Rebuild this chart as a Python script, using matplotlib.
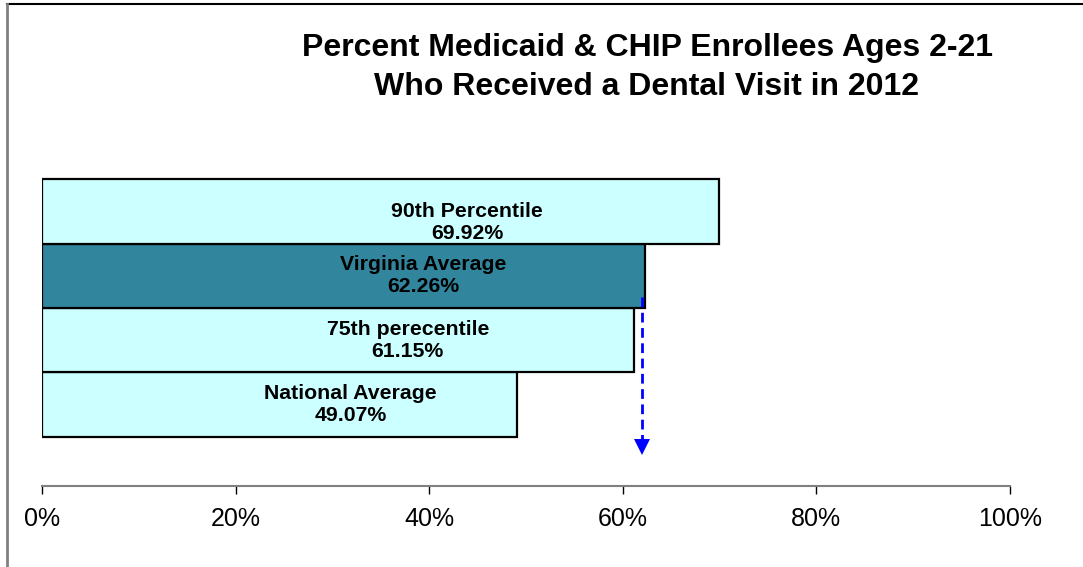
import matplotlib
matplotlib.use("Agg")
import matplotlib.pyplot as plt
from matplotlib.lines import Line2D

plt.rcParams['font.family'] = ['Liberation Sans', 'DejaVu Sans']

# ---- data ----
categories = ["National Average", "75th perecentile", "Virginia Average", "90th Percentile"]
values = [49.07, 61.15, 62.26, 69.92]
bar_colors = ["#CCFFFF", "#CCFFFF", "#31859C", "#CCFFFF"]
xticks = [0, 20, 40, 60, 80, 100]
xtick_labels = ["0%", "20%", "40%", "60%", "80%", "100%"]
title_lines = ["Percent Medicaid & CHIP Enrollees Ages 2-21",
               "Who Received a Dental Visit in 2012"]
arrow_x = 62.0
arrow_y_start = 1.67
arrow_y_end = -0.66
# label placement (fraction of bar length, vertical offset)
label_x_frac = [0.65, 0.618, 0.632, 0.628]
label_dy = [0.0, 0.0, 0.0, -0.17]

fig = plt.figure(figsize=(10.83, 5.67), dpi=100)
ax = fig.add_axes([42/1083, 1-486/567, (1010-42)/1083, (486-130)/567])

ypos = list(range(len(categories)))
ax.barh(ypos, values, height=1.0, color=bar_colors, edgecolor='black', linewidth=1.6, zorder=2)

for y, v, c, fx, dy in zip(ypos, values, categories, label_x_frac, label_dy):
    ax.text(v*fx, y+dy, f"{c}\n{v:.2f}%", ha='center', va='center',
            fontsize=15.3, fontweight='bold', linespacing=1.22, zorder=3)

ax.plot([arrow_x, arrow_x], [arrow_y_start, arrow_y_end+0.1], color='blue', lw=2,
        linestyle=(0, (3.5, 2)), zorder=4)
ax.plot([arrow_x], [arrow_y_end], marker='v', color='blue', markersize=12, zorder=4,
        markeredgewidth=0)

ax.set_xlim(0, 100)
ax.set_ylim(-1.26, 4.26)
ax.set_xticks(xticks)
ax.set_xticklabels(xtick_labels, fontsize=18)
ax.set_yticks([])
for s in ['left', 'top', 'right']:
    ax.spines[s].set_visible(False)
ax.spines['bottom'].set_color('#808080')
ax.spines['bottom'].set_linewidth(1.5)
ax.tick_params(axis='x', direction='out', length=6, width=1, color='black', pad=9)

fig.text(648/1083, 1-48/567, title_lines[0], ha='center', va='center', fontsize=23, fontweight='bold')
fig.text(646/1083, 1-87/567, title_lines[1], ha='center', va='center', fontsize=23, fontweight='bold')

# frame lines
fig.add_artist(Line2D([7/1083, 1], [1-4/567, 1-4/567], color='black', lw=1.5, transform=fig.transFigure))
fig.add_artist(Line2D([7/1083, 7/1083], [1-4/567, 0], color='#808080', lw=2, transform=fig.transFigure))

fig.savefig("out.png", dpi=100)
